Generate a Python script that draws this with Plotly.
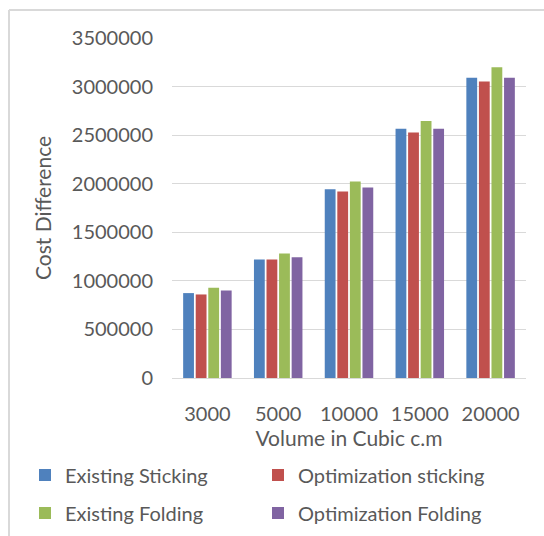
import plotly.graph_objects as go

# Volume categories (cubic cm)
volumes = ["3000", "5000", "10000", "15000", "20000"]

# Cost difference per method
existing_sticking = [874000, 1220000, 1943000, 2567000, 3091000]
optimization_sticking = [860000, 1220000, 1919000, 2526000, 3053000]
existing_folding = [928000, 1282000, 2022000, 2645000, 3200000]
optimization_folding = [901000, 1244000, 1960000, 2567000, 3091000]

y_ticks = [0, 500000, 1000000, 1500000, 2000000, 2500000, 3000000, 3500000]

series = [
    ("Existing Sticking", existing_sticking, "#4F81BD", "legend"),
    ("Optimization sticking", optimization_sticking, "#C0504D", "legend"),
    ("Existing Folding", existing_folding, "#9BBB59", "legend2"),
    ("Optimization Folding", optimization_folding, "#8064A2", "legend2"),
]

FONT = "Lato"
TEXT = "#595959"
W, H = 544, 536
L, R, T, B = 172, 18, 38, 158

fig = go.Figure()
for name, vals, color, leg in series:
    fig.add_trace(go.Bar(
        x=volumes, y=vals, name=name, legend=leg,
        marker=dict(color=color, line=dict(width=0)),
    ))

pw = W - L - R
ph = H - T - B


def px_x(p):
    return (p - L) / pw


def px_y(p):
    return (H - B - p) / ph


legend_common = dict(
    orientation="h", xanchor="left", yanchor="middle",
    font=dict(family=FONT, size=20, color=TEXT),
    entrywidth=188, bgcolor="rgba(0,0,0,0)", itemwidth=30,
)

fig.update_layout(
    width=W, height=H,
    margin=dict(l=L, r=R, t=T, b=B, autoexpand=False),
    paper_bgcolor="white", plot_bgcolor="white",
    barmode="group", bargap=0.29, bargroupgap=0.14,
    font=dict(family=FONT, color=TEXT, size=20),
    xaxis=dict(
        type="category", showgrid=False, showline=True,
        linecolor="#D9D9D9", linewidth=1,
        tickfont=dict(family=FONT, size=20, color=TEXT),
        ticks="", ticklabelstandoff=18,
        title=dict(text="Volume in Cubic c.m", standoff=6,
                   font=dict(family=FONT, size=21, color=TEXT)),
    ),
    yaxis=dict(
        range=[0, 3500000], tickvals=y_ticks,
        ticktext=[str(v) for v in y_ticks],
        showgrid=True, gridcolor="#D9D9D9", gridwidth=1,
        zeroline=False, showline=False, ticks="",
        ticklabelstandoff=18,
        tickfont=dict(family=FONT, size=20, color=TEXT),
        title=dict(text="Cost Difference", standoff=14,
                   font=dict(family=FONT, size=21, color=TEXT)),
    ),
    legend=dict(x=px_x(25), y=px_y(475), **legend_common),
    legend2=dict(x=px_x(25), y=px_y(513), **legend_common),
    shapes=[
        # chart frame: top edge and left edge
        dict(type="line", xref="paper", yref="paper",
             x0=px_x(9), x1=px_x(W + 5), y0=px_y(10), y1=px_y(10),
             line=dict(color="#D9D9D9", width=2)),
        dict(type="line", xref="paper", yref="paper",
             x0=px_x(9), x1=px_x(9), y0=px_y(10), y1=px_y(H + 5),
             line=dict(color="#D9D9D9", width=2)),
    ],
)

fig.write_html("out.html")
